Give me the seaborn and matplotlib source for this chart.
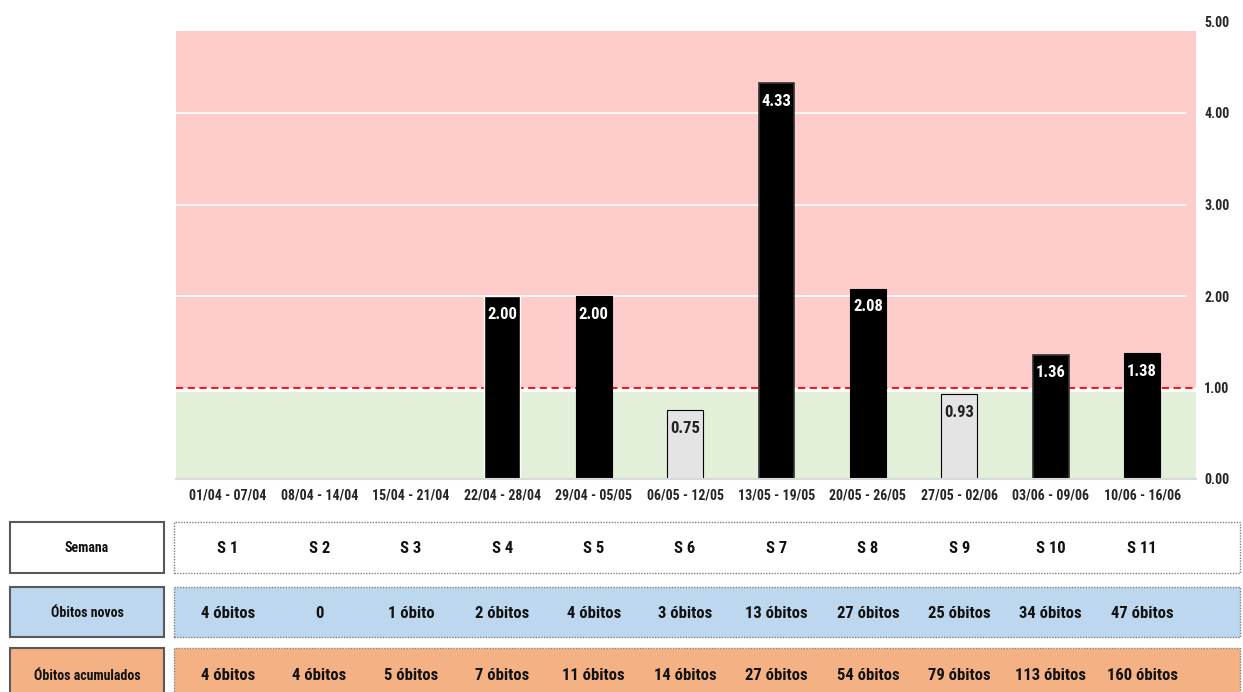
import numpy as np
import pandas as pd
import matplotlib
matplotlib.use("Agg")
import matplotlib.pyplot as plt
import matplotlib.patches as mpatches
from matplotlib import font_manager
from matplotlib.transforms import blended_transform_factory
import seaborn as sns

# Weekly data
semanas = ["S 1", "S 2", "S 3", "S 4", "S 5", "S 6", "S 7", "S 8", "S 9", "S 10", "S 11"]
periodos = ["01/04 - 07/04", "08/04 - 14/04", "15/04 - 21/04", "22/04 - 28/04",
            "29/04 - 05/05", "06/05 - 12/05", "13/05 - 19/05", "20/05 - 26/05",
            "27/05 - 02/06", "03/06 - 09/06", "10/06 - 16/06"]
taxa = [np.nan, np.nan, np.nan, 2.00, 2.00, 0.75, 4.33, 2.08, 0.93, 1.36, 1.38]
obitos_novos = ["4 óbitos", "0", "1 óbito", "2 óbitos", "4 óbitos", "3 óbitos",
                "13 óbitos", "27 óbitos", "25 óbitos", "34 óbitos", "47 óbitos"]
obitos_acumulados = ["4 óbitos", "4 óbitos", "5 óbitos", "7 óbitos", "11 óbitos",
                     "14 óbitos", "27 óbitos", "54 óbitos", "79 óbitos", "113 óbitos",
                     "160 óbitos"]
yticks = [0, 1, 2, 3, 4, 5]

sns.set_theme(style="white")
available = {f.name for f in font_manager.fontManager.ttflist}
fams = [f for f in ["Liberation Sans Narrow", "DejaVu Sans Condensed", "Roboto Condensed",
                    "Open Sans Condensed", "DejaVu Sans"] if f in available]
plt.rcParams["font.family"] = fams
plt.rcParams["font.weight"] = "bold"
plt.rcParams["font.stretch"] = "condensed"

W, H = 1243, 692
fig = plt.figure(figsize=(W / 100, H / 100), dpi=100)


def px_rect(x0, y0, x1, y1):
    return [x0 / W, 1 - y1 / H, (x1 - x0) / W, (y1 - y0) / H]


ax = fig.add_axes(px_rect(176, 21.5, 1196, 479))

df = pd.DataFrame({"periodo": periodos, "taxa": taxa})
cores = ["black" if (v > 1) else "#e4e4e4" for v in df["taxa"].fillna(0)]

# Background bands: above / below the threshold of 1
ax.axhspan(1.0, 4.9, color="#ffcccc", zorder=0, lw=0)
ax.axhspan(0.0, 0.955, color="#e2efd9", zorder=0, lw=0)
for g in [2, 3, 4]:
    ax.axhline(g, color="white", lw=1.2, zorder=0.5, xmax=0.99)
ax.axhline(1.0, color="#ff0000", lw=1.3, ls=(0, (4, 2.5)), zorder=1)

sns.barplot(data=df, x="periodo", y="taxa", hue="periodo", palette=cores,
            legend=False, width=0.39, ax=ax, zorder=2, saturation=1)

for patch, v in zip(ax.patches, taxa):
    if np.isnan(v):
        continue
    if v < 1:
        patch.set_edgecolor("#333333")
        patch.set_linewidth(1.2)
    else:
        patch.set_edgecolor("black")
        patch.set_linewidth(0.8)

for i, v in enumerate(taxa):
    if np.isnan(v):
        continue
    ax.text(i, v - 0.2, f"{v:.2f}", ha="center", va="center", fontsize=12,
            fontweight="bold", color="white" if v > 1 else "#222222", zorder=4)

ax.set_xlim(-0.57, 10.59)
ax.set_ylim(0, 5)
ax.yaxis.tick_right()
ax.set_yticks(yticks)
ax.set_yticklabels([f"{t:.2f}" for t in yticks], fontsize=10, fontweight="bold")
ax.tick_params(axis="y", length=0, pad=6)
ax.tick_params(axis="x", length=0, pad=7, labelsize=10)
for lbl in ax.get_xticklabels():
    lbl.set_fontweight("bold")
ax.set_xlabel("")
ax.set_ylabel("")
for s in ["top", "left", "right"]:
    ax.spines[s].set_visible(False)
ax.spines["bottom"].set_color("#d9d9d9")
ax.spines["bottom"].set_linewidth(1.5)

# Summary table below the chart
trans = blended_transform_factory(ax.transData, fig.transFigure)
rows = [
    ("Semana", semanas, "white", 522, 573),
    ("Óbitos novos", obitos_novos, "#bdd7ee", 587, 637),
    ("Óbitos acumulados", obitos_acumulados, "#f4b183", 648, 702),
]
for nome, valores, cor, y0, y1 in rows:
    fig.patches.append(mpatches.Rectangle(
        (10 / W, 1 - y1 / H), 154 / W, (y1 - y0) / H, transform=fig.transFigure,
        facecolor=cor, edgecolor="#595959", lw=1.5, zorder=1))
    fig.patches.append(mpatches.Rectangle(
        (174 / W, 1 - y1 / H), 1066 / W, (y1 - y0) / H, transform=fig.transFigure,
        facecolor=cor, edgecolor="#7f7f7f", lw=1.0, ls=(0, (1, 1)), zorder=1))
    yc = 1 - ((y0 + y1) / 2 + 1) / H
    fig.text(87 / W, yc, nome, ha="center", va="center", fontsize=10,
             fontweight="bold", color="#111111")
    for i, val in enumerate(valores):
        fig.text(i, yc, val, transform=trans, ha="center", va="center",
                 fontsize=12, fontweight="bold", color="#111111")

fig.savefig("out.png", dpi=100)
